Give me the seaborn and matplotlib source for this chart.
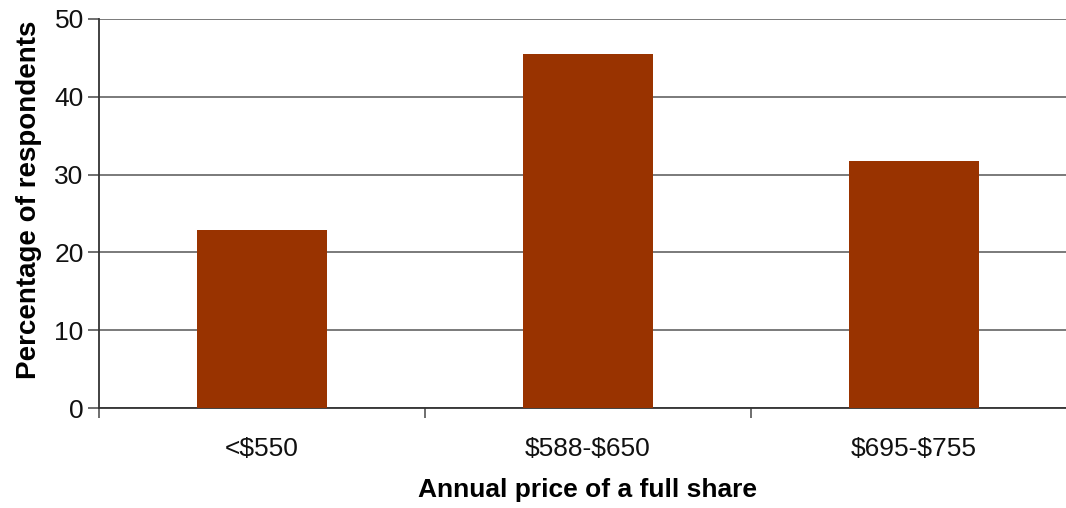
import matplotlib
matplotlib.use("Agg")
import matplotlib.pyplot as plt
import seaborn as sns
import pandas as pd

price_ranges = ["<$550", "$588-$650", "$695-$755"]
respondents_pct = [22.9, 45.5, 31.7]
y_ticks = [0, 10, 20, 30, 40, 50]

sns.set_theme(style="white")
plt.rcParams["font.family"] = ["Liberation Sans", "DejaVu Sans"]
plt.rcParams["text.parse_math"] = False

df = pd.DataFrame({"price": price_ranges, "pct": respondents_pct})

W, H = 1066, 508
fig = plt.figure(figsize=(W / 100, H / 100), dpi=100)
left, right, bottom, top = 99, 1077, 408, 19
ax = fig.add_axes([left / W, (H - bottom) / H, (right - left) / W, (bottom - top) / H])

sns.barplot(data=df, x="price", y="pct", color="#993300", saturation=1,
            width=0.40, linewidth=0, ax=ax, zorder=3)

ax.set_ylim(0, 50)
ax.set_xlim(-0.5, len(price_ranges) - 0.5)
ax.set_yticks(y_ticks)
ax.set_yticklabels([str(t) for t in y_ticks], fontsize=19, color="#111111")
ax.yaxis.grid(True, color="#707070", linewidth=1.3, zorder=0)
ax.set_axisbelow(True)

# category labels centred under bars, tick marks on category boundaries
ax.set_xticks(range(len(price_ranges)))
ax.set_xticklabels(price_ranges, fontsize=19, color="#111111")
ax.tick_params(axis="x", length=0, pad=21)
ax.set_xticks([i - 0.5 for i in range(len(price_ranges) + 1)], minor=True)
ax.tick_params(axis="x", which="minor", length=7, width=1.2, color="#555555", direction="out", bottom=True)
ax.tick_params(axis="y", length=8, width=1.2, color="#555555", direction="out", left=True, pad=3)

for side in ["top", "right"]:
    ax.spines[side].set_visible(False)
ax.spines["left"].set_color("#333333")
ax.spines["left"].set_linewidth(1.3)
ax.spines["bottom"].set_color("#333333")
ax.spines["bottom"].set_linewidth(1.3)

ax.set_xlabel("Annual price of a full share", fontsize=19, fontweight="bold",
              labelpad=12, color="black")
ax.set_ylabel("Percentage of respondents", fontsize=20, fontweight="bold",
              labelpad=9, color="black")
ax.yaxis.label.set_y(0.535)

fig.savefig("out.png", dpi=100)
